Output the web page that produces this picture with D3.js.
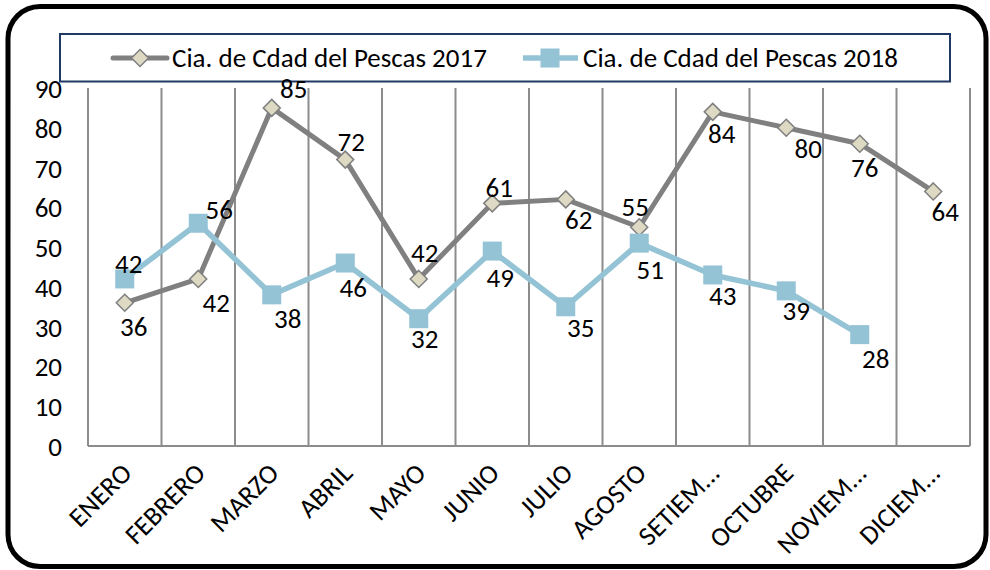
<!DOCTYPE html>
<html><head><meta charset="utf-8">
<script src="https://cdn.jsdelivr.net/npm/d3@7"></script>
<style>html,body{margin:0;padding:0;background:#fff;}svg{display:block;}</style>
</head><body>
<svg id="c" width="990" height="570"></svg>
<script>
const categories = ["ENERO","FEBRERO","MARZO","ABRIL","MAYO","JUNIO","JULIO","AGOSTO","SETIEM...","OCTUBRE","NOVIEM...","DICIEM..."];
const series2017 = [36,42,85,72,42,61,62,55,84,80,76,64];
const series2018 = [42,56,38,46,32,49,35,51,43,39,28,null];
const seriesNames = ["Cia. de Cdad del Pescas 2017","Cia. de Cdad del Pescas 2018"];
const yTicks = [0,10,20,30,40,50,60,70,80,90];
// label offsets (dx, dy) relative to each marker
const off2017 = [[9,24],[18,24],[22,-19],[6,-18],[6,-26],[7,-16],[13,20],[-4,-21],[9,22],[22,21],[5,24],[12,20]];
const off2018 = [[4,-15],[21,-14],[16,24],[8,25],[6,20],[8,26],[15,21],[11,26],[10,21],[10,20],[16,24],[0,0]];

const FONT = "Carlito, Calibri, Lato, sans-serif";
const FS = 27;
const svg = d3.select("#c");
const L = 88, R = 970, T = 88, B = 446;

const x = d3.scaleBand().domain(categories).range([L, R]).padding(0);
const y = d3.scaleLinear().domain([0, 90]).range([B, T]);
const cx = d => x(d) + x.bandwidth() / 2;

// outer frame
svg.append("rect").attr("x", 8).attr("y", 6.5).attr("width", 978).attr("height", 560)
  .attr("rx", 32).attr("fill", "none").attr("stroke", "#000").attr("stroke-width", 5);

// legend
const sq = 19;
const diamond = (s) => `M0,${-s}L${s},0L0,${s}L${-s},0Z`;
const lg = svg.append("g");
lg.append("rect").attr("x", 60).attr("y", 34).attr("width", 890).attr("height", 47.5)
  .attr("fill", "#fff").attr("stroke", "#1F3864").attr("stroke-width", 2);
const ly = 58;
lg.append("line").attr("x1", 113).attr("x2", 167).attr("y1", ly).attr("y2", ly)
  .attr("stroke", "#808080").attr("stroke-width", 5).attr("stroke-linecap", "round");
lg.append("path").attr("transform", `translate(140,${ly})`).attr("d", diamond(8.5))
  .attr("fill", "#DDD9C3").attr("stroke", "#7f7f7f").attr("stroke-width", 1.5);
lg.append("text").attr("x", 172).attr("y", ly).attr("dy", "0.35em")
  .attr("font-family", FONT).attr("font-size", FS).attr("fill", "#000").text(seriesNames[0]);
lg.append("line").attr("x1", 523).attr("x2", 578).attr("y1", ly).attr("y2", ly)
  .attr("stroke", "#93C3D5").attr("stroke-width", 5.5);
lg.append("rect").attr("x", 550 - sq / 2).attr("y", ly - sq / 2).attr("width", sq).attr("height", sq).attr("fill", "#93C3D5");
lg.append("text").attr("x", 583).attr("y", ly).attr("dy", "0.35em")
  .attr("font-family", FONT).attr("font-size", FS).attr("fill", "#000").text(seriesNames[1]);

// vertical gridlines at band boundaries
const bounds = categories.map(c => x(c)).concat([R]);
svg.append("g").selectAll("line").data(bounds).join("line")
  .attr("x1", d => d).attr("x2", d => d).attr("y1", T).attr("y2", B)
  .attr("stroke", "#8c8c8c").attr("stroke-width", 2);
// baseline
svg.append("line").attr("x1", L).attr("x2", R).attr("y1", B).attr("y2", B)
  .attr("stroke", "#8c8c8c").attr("stroke-width", 2);

// y axis labels
const yAxis = d3.axisLeft(y).tickValues(yTicks).tickSize(0).tickPadding(0);
const gy = svg.append("g").attr("transform", `translate(${62},0)`).call(yAxis);
gy.select(".domain").remove();
gy.selectAll("text").attr("font-family", FONT).attr("font-size", FS).attr("fill", "#000").attr("dy", "0.35em");

// x axis labels
const gx = svg.append("g");
gx.selectAll("text").data(categories).join("text")
  .attr("transform", d => `translate(${cx(d) + 2},${468}) rotate(-45)`)
  .attr("text-anchor", "end").attr("dy", "0.35em")
  .attr("font-family", FONT).attr("font-size", FS).attr("fill", "#000")
  .text(d => d);

// 2017 line
const line17 = d3.line().x((d, i) => cx(categories[i])).y(d => y(d));
svg.append("path").datum(series2017).attr("d", line17)
  .attr("fill", "none").attr("stroke", "#808080").attr("stroke-width", 5).attr("stroke-linejoin", "round");
// 2018 line
const line18 = d3.line().defined(d => d != null).x((d, i) => cx(categories[i])).y(d => y(d));
svg.append("path").datum(series2018).attr("d", line18)
  .attr("fill", "none").attr("stroke", "#93C3D5").attr("stroke-width", 5.5).attr("stroke-linejoin", "round");

// 2017 markers
svg.append("g").selectAll("path").data(series2017).join("path")
  .attr("transform", (d, i) => `translate(${cx(categories[i])},${y(d)})`)
  .attr("d", diamond(8.5)).attr("fill", "#DDD9C3").attr("stroke", "#7f7f7f").attr("stroke-width", 1.5);
// 2018 markers
svg.append("g").selectAll("rect").data(series2018.map((v, i) => ({v, i})).filter(d => d.v != null)).join("rect")
  .attr("x", d => cx(categories[d.i]) - sq / 2).attr("y", d => y(d.v) - sq / 2)
  .attr("width", sq).attr("height", sq).attr("fill", "#93C3D5");

// data labels
function labels(data, offs) {
  svg.append("g").selectAll("text").data(data.map((v, i) => ({v, i})).filter(d => d.v != null)).join("text")
    .attr("x", d => cx(categories[d.i]) + offs[d.i][0])
    .attr("y", d => y(d.v) + offs[d.i][1])
    .attr("dy", "0.35em").attr("text-anchor", "middle")
    .attr("font-family", FONT).attr("font-size", FS).attr("fill", "#000")
    .text(d => d.v);
}
labels(series2017, off2017);
labels(series2018, off2018);
</script>
</body></html>
